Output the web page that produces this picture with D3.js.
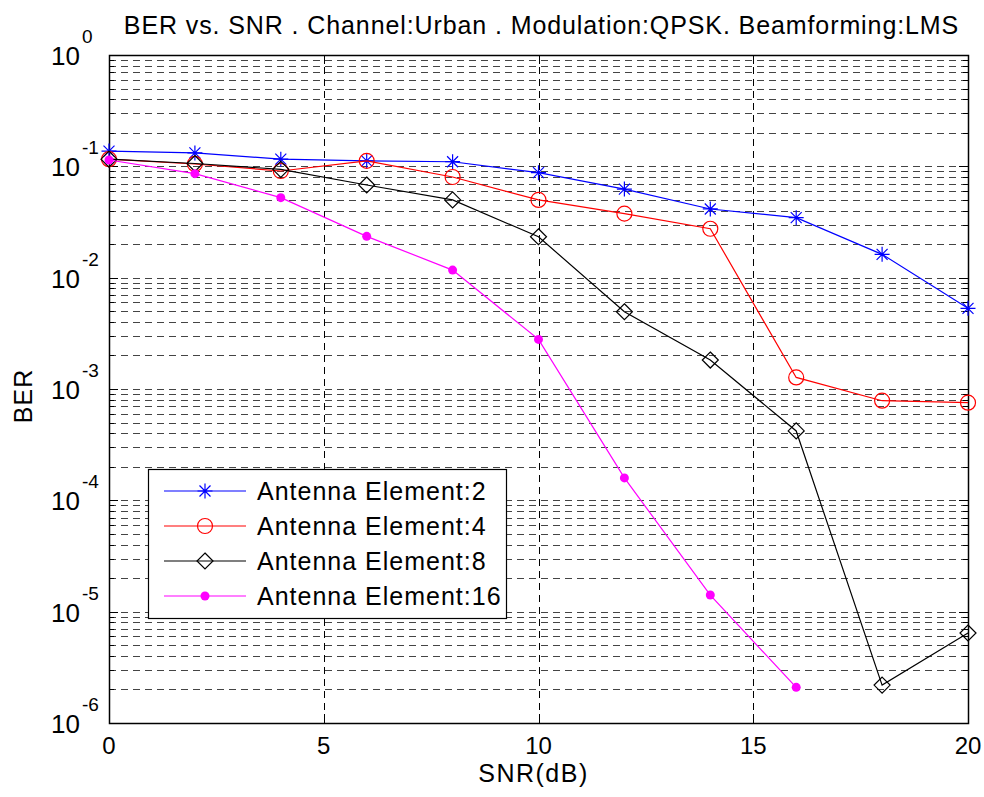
<!DOCTYPE html>
<html>
<head>
<meta charset="utf-8">
<script src="https://cdn.jsdelivr.net/npm/d3@7"></script>
<style>
  body { margin: 0; background: #fff; }
  text { font-family: "Liberation Sans", Arial, sans-serif; fill: #000; }
</style>
</head>
<body>
<div class="chart"></div>
<script>
// values
var snr = [0, 2, 4, 6, 8, 10, 12, 14, 16, 18, 20];
var ber2 = [0.137, 0.132, 0.116, 0.112, 0.110, 0.0877, 0.0625, 0.0414, 0.0346, 0.0162, 0.0053];
var ber4 = [0.116, 0.105, 0.0908, 0.112, 0.0802, 0.0499, 0.0376, 0.0275, 0.00127, 0.000785, 0.000753];
var ber8 = [0.116, 0.106, 0.094, 0.068, 0.0499, 0.0233, 0.00494, 0.00182, 0.00042, 2.19e-6, 6.43e-6];
var ber16 = [0.114, 0.0859, 0.0523, 0.0235, 0.0117, 0.00279, 1.59e-4, 1.41e-5, 2.09e-6];
var xTicks = [0, 5, 10, 15, 20];
var yExps = [0, -1, -2, -3, -4, -5, -6];
var labels = ["Antenna Element:2", "Antenna Element:4", "Antenna Element:8", "Antenna Element:16"];
var title = "BER vs. SNR . Channel:Urban . Modulation:QPSK. Beamforming:LMS";

var width = 984, height = 797;
// plot box (don't use "top" as a global name, it's window.top)
var pL = 109, pR = 968, pT = 55, pB = 723;

var svg = d3.select(".chart").append("svg")
  .attr("width", width).attr("height", height);

var x = d3.scaleLinear().domain([0, 20]).range([pL, pR]);
var y = d3.scaleLog().domain([1e-6, 1]).range([pB, pT]);

// minor + major horizontal grid
var yGrid = [];
for (var e = -6; e < 0; e++) {
  for (var k = 1; k < 10; k++) yGrid.push(k * Math.pow(10, e));
}
yGrid.push(1);

var grid = svg.append("g");
grid.selectAll(".hg").data(yGrid).enter().append("line")
  .attr("x1", pL).attr("x2", pR)
  .attr("y1", function(d){ return Math.round(y(d)) + 0.5; })
  .attr("y2", function(d){ return Math.round(y(d)) + 0.5; })
  .attr("stroke", "#444").attr("stroke-dasharray", "7,5");
grid.selectAll(".vg").data(xTicks).enter().append("line")
  .attr("x1", function(d){ return Math.round(x(d)) + 0.5; })
  .attr("x2", function(d){ return Math.round(x(d)) + 0.5; })
  .attr("y1", pT).attr("y2", pB)
  .attr("stroke", "#000").attr("stroke-dasharray", "7,5");

// inner ticks
var ticks = svg.append("g").attr("stroke", "#000");
yGrid.forEach(function(d){
  var lg10 = Math.log10(d);
  var len = (Math.abs(lg10 - Math.round(lg10)) < 1e-9) ? 9 : 5;
  var yy = Math.round(y(d)) + 0.5;
  ticks.append("line").attr("x1", pL).attr("x2", pL + len).attr("y1", yy).attr("y2", yy);
  ticks.append("line").attr("x1", pR - len).attr("x2", pR).attr("y1", yy).attr("y2", yy);
});
xTicks.forEach(function(d){
  var xx = Math.round(x(d)) + 0.5;
  ticks.append("line").attr("x1", xx).attr("x2", xx).attr("y1", pB).attr("y2", pB - 9);
  ticks.append("line").attr("x1", xx).attr("x2", xx).attr("y1", pT).attr("y2", pT + 9);
});

// box
svg.append("rect")
  .attr("x", pL + 0.5).attr("y", pT + 0.5)
  .attr("width", pR - pL).attr("height", pB - pT)
  .attr("fill", "none").attr("stroke", "#000").attr("stroke-width", 1.5);

// x tick labels
svg.selectAll(".xl").data(xTicks).enter().append("text")
  .attr("x", function(d){ return x(d); })
  .attr("y", pB + 31)
  .attr("text-anchor", "middle")
  .style("font-size", "24px")
  .text(function(d){ return d; });

// y tick labels 10^n
var yl = svg.selectAll(".yl").data(yExps).enter().append("text")
  .attr("x", 51)
  .attr("y", function(d){ return y(Math.pow(10, d)) + 10; })
  .style("font-size", "26px");
yl.append("tspan").text("10");
yl.append("tspan")
  .attr("dx", 2).attr("dy", -22)
  .style("font-size", "19px")
  .text(function(d){ return d; });

// axis titles
svg.append("text")
  .attr("x", (pL + pR) / 2 + 3).attr("y", 34)
  .attr("text-anchor", "middle")
  .style("font-size", "25px").style("letter-spacing", "0.9px")
  .text(title);
svg.append("text")
  .attr("x", (pL + pR) / 2 - 5).attr("y", 782)
  .attr("text-anchor", "middle")
  .style("font-size", "25px").style("letter-spacing", "1.5px")
  .text("SNR(dB)");
svg.append("text")
  .attr("transform", "translate(32," + ((pT + pB) / 2 + 7) + ") rotate(-90)")
  .attr("text-anchor", "middle")
  .style("font-size", "25px").style("letter-spacing", "1px")
  .text("BER");

// series
var series = [
  { vals: ber2, color: "#0000ff", marker: "star" },
  { vals: ber4, color: "#ff0000", marker: "circle" },
  { vals: ber8, color: "#000000", marker: "diamond" },
  { vals: ber16, color: "#ff00ff", marker: "dot" }
];

var line = d3.line()
  .x(function(d){ return x(d[0]); })
  .y(function(d){ return y(d[1]); });

function drawMarker(g, type, color, cx, cy) {
  if (type === "star") {
    var r = 7.5, r2 = 5.5;
    g.append("path")
      .attr("d", "M" + (cx - r) + "," + cy + "H" + (cx + r) +
                 "M" + cx + "," + (cy - r) + "V" + (cy + r) +
                 "M" + (cx - r2) + "," + (cy - r2) + "L" + (cx + r2) + "," + (cy + r2) +
                 "M" + (cx - r2) + "," + (cy + r2) + "L" + (cx + r2) + "," + (cy - r2))
      .attr("stroke", color).attr("stroke-width", 1.2).attr("fill", "none");
  } else if (type === "circle") {
    g.append("circle").attr("cx", cx).attr("cy", cy).attr("r", 7.5)
      .attr("stroke", color).attr("stroke-width", 1.2).attr("fill", "none");
  } else if (type === "diamond") {
    var d = 8;
    g.append("path")
      .attr("d", "M" + cx + "," + (cy - d) + "L" + (cx + d) + "," + cy +
                 "L" + cx + "," + (cy + d) + "L" + (cx - d) + "," + cy + "Z")
      .attr("stroke", color).attr("stroke-width", 1.2).attr("fill", "none");
  } else {
    g.append("circle").attr("cx", cx).attr("cy", cy).attr("r", 4.5)
      .attr("fill", color);
  }
}

series.forEach(function(s){
  var pts = s.vals.map(function(v, i){ return [snr[i], v]; });
  var g = svg.append("g");
  g.append("path").attr("d", line(pts))
    .attr("fill", "none").attr("stroke", s.color).attr("stroke-width", 1.2);
  pts.forEach(function(p){
    drawMarker(g, s.marker, s.color, x(p[0]), y(p[1]));
  });
});

// legend
var lg = svg.append("g");
lg.append("rect")
  .attr("x", 148.5).attr("y", 469.5).attr("width", 358).attr("height", 149)
  .attr("fill", "#fff").attr("stroke", "#000").attr("stroke-width", 1.2);
series.forEach(function(s, i){
  var yy = 491 + i * 35;
  lg.append("line").attr("x1", 164).attr("x2", 246).attr("y1", yy).attr("y2", yy)
    .attr("stroke", s.color).attr("stroke-width", 1.2);
  drawMarker(lg, s.marker, s.color, 205, yy);
  lg.append("text").attr("x", 257).attr("y", yy + 9)
    .style("font-size", "25px").style("letter-spacing", "1px")
    .text(labels[i]);
});
</script>
</body>
</html>
